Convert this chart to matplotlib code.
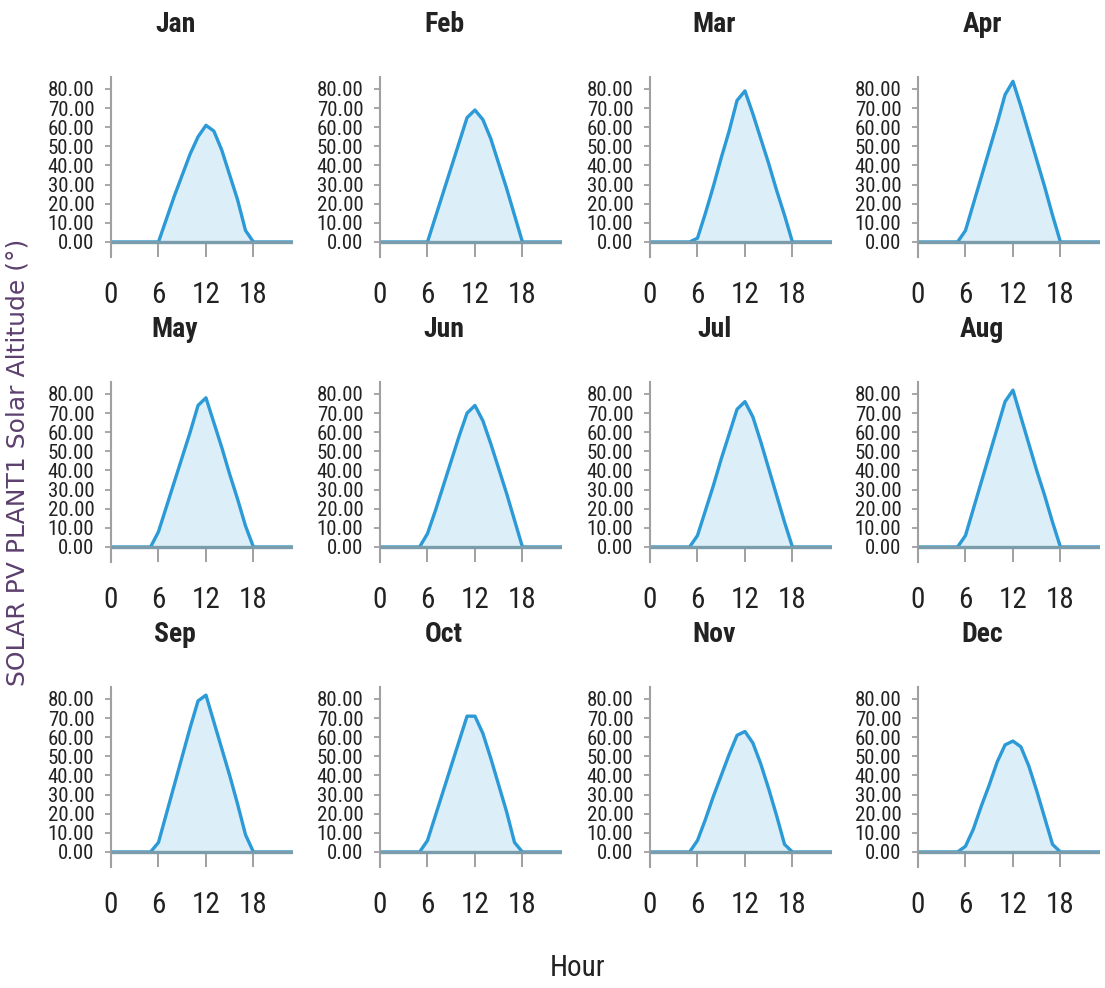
import matplotlib
matplotlib.use("Agg")
import matplotlib.pyplot as plt
from matplotlib import font_manager as fm

hours = list(range(24))
months = ["Jan", "Feb", "Mar", "Apr", "May", "Jun",
          "Jul", "Aug", "Sep", "Oct", "Nov", "Dec"]

jan = [0]*6 + [0, 12, 24, 35, 46, 55, 61, 58, 48, 35, 22, 6, 0] + [0]*5
feb = [0]*6 + [0, 13, 26, 39, 52, 65, 69, 64, 54, 41, 28, 14, 0] + [0]*5
mar = [0]*5 + [0, 2, 15, 29, 44, 58, 74, 79, 67, 54, 41, 27, 14, 0] + [0]*5
apr = [0]*5 + [0, 6, 20, 34, 48, 62, 77, 84, 71, 57, 43, 29, 14, 0] + [0]*5
may = [0]*5 + [0, 8, 21, 34, 47, 60, 74, 78, 65, 52, 38, 25, 11, 0] + [0]*5
jun = [0]*5 + [0, 7, 19, 32, 45, 58, 70, 74, 66, 54, 41, 28, 14, 0] + [0]*5
jul = [0]*5 + [0, 6, 19, 32, 46, 59, 72, 76, 68, 55, 41, 27, 13, 0] + [0]*5
aug = [0]*5 + [0, 6, 20, 34, 48, 62, 76, 82, 68, 54, 40, 27, 13, 0] + [0]*5
sep = [0]*5 + [0, 5, 20, 35, 50, 65, 79, 82, 68, 54, 40, 25, 9, 0] + [0]*5
oct_ = [0]*5 + [0, 6, 19, 32, 45, 58, 71, 71, 62, 49, 35, 21, 5, 0] + [0]*5
nov = [0]*5 + [0, 6, 17, 29, 40, 51, 61, 63, 57, 46, 33, 19, 4, 0] + [0]*5
dec = [0]*5 + [0, 3, 12, 24, 35, 47, 56, 58, 55, 45, 32, 18, 4, 0] + [0]*5
series = [jan, feb, mar, apr, may, jun, jul, aug, sep, oct_, nov, dec]

xticks = [0, 6, 12, 18]
yticks = [0, 10, 20, 30, 40, 50, 60, 70, 80]
ytick_labels = ["0.00", "10.00", "20.00", "30.00", "40.00",
                "50.00", "60.00", "70.00", "80.00"]

names = {f.name for f in fm.fontManager.ttflist}
narrow = None
for cand in ["Roboto Condensed", "Liberation Sans Narrow", "Open Sans Condensed"]:
    if cand in names:
        narrow = cand
        break
if narrow is None:
    narrow_kw = dict(family="DejaVu Sans", stretch="condensed")
else:
    narrow_kw = dict(family=narrow)

W, H = 1105, 988
fig = plt.figure(figsize=(W/100, H/100), dpi=100)
fig.patch.set_facecolor("white")

col_left = [111, 380, 650, 918]
row_top = [77.5, 382.5, 687.5]
ax_w, ax_h = 182, 179.8

line_color = "#2b9ad6"
fill_color = "#dceef8"
axis_gray = "#a0a0a0"
zero_color = "#7a9cab"

for i, (m, vals) in enumerate(zip(months, series)):
    r, c = divmod(i, 4)
    left = col_left[c] / W
    bottom = 1 - (row_top[r] + ax_h) / H
    ax = fig.add_axes([left, bottom, ax_w / W, ax_h / H])
    ax.set_xlim(0, 23)
    ax.set_ylim(-8, 86)
    ax.fill_between(hours, vals, 0, color=fill_color, zorder=1, linewidth=0)
    ax.plot(hours, vals, color=line_color, linewidth=2.4, zorder=2,
            solid_joinstyle="round")
    ax.plot([0, 23], [0, 0], color=zero_color, linewidth=2.4, zorder=3,
            solid_capstyle="butt")
    ax.vlines(xticks[1:], -8, 0, color=axis_gray, linewidth=1.4, zorder=1)
    for s in ["top", "right", "bottom"]:
        ax.spines[s].set_visible(False)
    ax.spines["left"].set_color(axis_gray)
    ax.spines["left"].set_linewidth(1.5)
    ax.set_xticks(xticks)
    ax.set_xticklabels([str(t) for t in xticks])
    ax.tick_params(axis="x", length=0, pad=17, labelsize=21, labelcolor="#222222")
    ax.set_yticks(yticks)
    ax.set_yticklabels(ytick_labels)
    ax.tick_params(axis="y", length=4, width=1.3, color=axis_gray, direction="out",
                   pad=8, labelsize=15, labelcolor="#222222")
    for lab in ax.get_xticklabels() + ax.get_yticklabels():
        lab.set_fontproperties(fm.FontProperties(size=lab.get_fontsize(), **narrow_kw))
    ax.text(0.352, 1.292, m, transform=ax.transAxes, ha="center", va="center",
            fontsize=20, fontweight="bold", color="#222222", **narrow_kw)
    ax.set_facecolor("white")

fig.text(18/W, 1 - 462/H, "SOLAR PV PLANT1 Solar Altitude (°)", rotation=90,
         ha="center", va="center", fontsize=18, color="#5c3f6e",
         family="DejaVu Sans")
fig.text(578/W, 1 - 968/H, "Hour", ha="center", va="center",
         fontsize=21, color="#222222", **narrow_kw)

fig.savefig("out.png", dpi=100, facecolor="white")
